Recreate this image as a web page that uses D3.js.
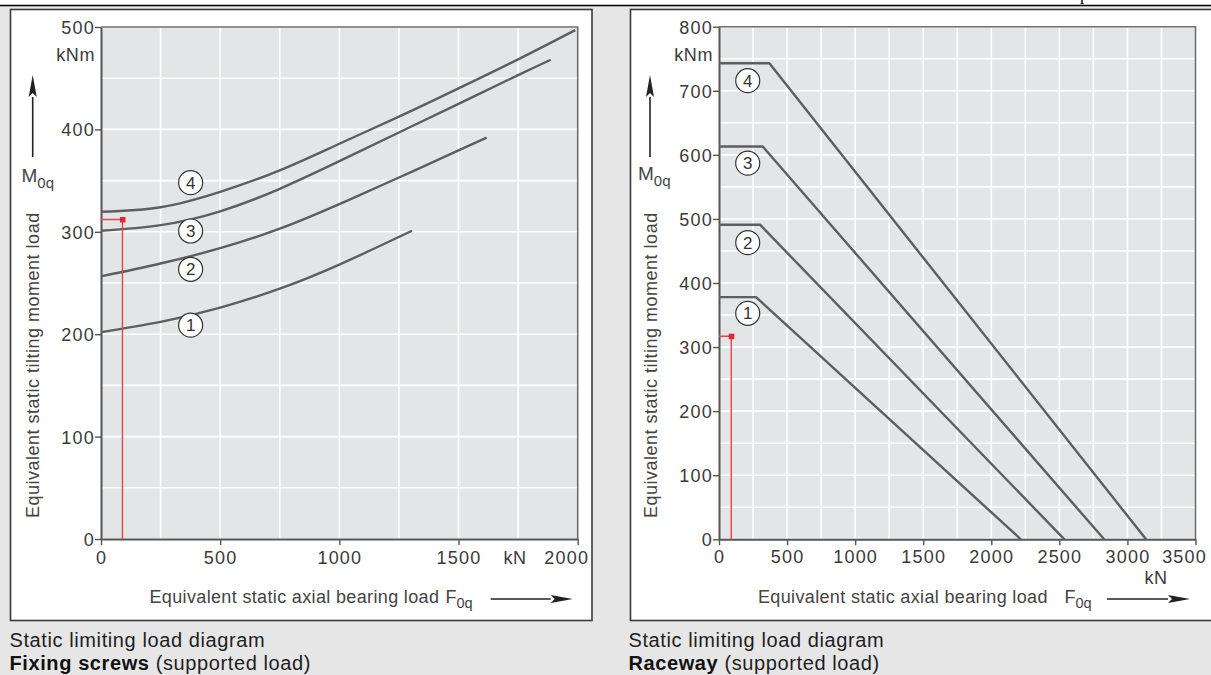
<!DOCTYPE html>
<html><head><meta charset="utf-8">
<script src="https://cdn.jsdelivr.net/npm/d3@7"></script>
<style>
html,body{margin:0;padding:0;background:#e6e6e6;}
svg{display:block;}
text{font-family:"Liberation Sans",Arial,sans-serif;fill:#3a3a3a;}
</style></head><body>
<svg id="c" width="1211" height="675"></svg>
<script>
// ---------- data ----------
// Left: fixing screws (F0q kN -> M0q kNm)
const screwXTicks = [0, 500, 1000, 1500, 2000];
const screwYTicks = [0, 100, 200, 300, 400, 500];
const screwCurve1 = [[0,202],[250,212],[500,226],[750,244.5],[1000,268],[1305,301]];
const screwCurve2 = [[0,256.5],[250,269],[500,284],[750,303],[1000,327],[1250,353],[1500,379.5],[1618,392]];
const screwCurve3 = [[0,301],[250,306.5],[500,320],[750,342],[1000,369],[1250,397],[1500,425],[1750,453],[1887,468]];
const screwCurve4 = [[0,319.6],[250,324],[500,339],[750,360],[1000,386],[1250,412.4],[1500,440],[1750,468.4],[1990,497]];
const screwLabels = ["1","2","3","4"];
const screwLabelPos = [[376,208.8],[376,263.4],[376,300.8],[376,348]];
const screwMarker = [90, 312];

// Right: raceway
const raceXTicks = [0, 500, 1000, 1500, 2000, 2500, 3000, 3500];
const raceYTicks = [0, 100, 200, 300, 400, 500, 600, 700, 800];
const raceCurve1 = [[0,378],[272,378],[2217,0]];
const raceCurve2 = [[0,491],[301,491],[2537,0]];
const raceCurve3 = [[0,613],[321,613],[2829,0]];
const raceCurve4 = [[0,743],[370,743],[3137,0]];
const raceLabels = ["1","2","3","4"];
const raceLabelPos = [[211,352.7],[211,463],[211,587],[211,715.7]];
const raceMarker = [90, 317];

const yTitle = "Equivalent static tilting moment load";
const xTitle = "Equivalent static axial bearing load";
const captionLine1 = "Static limiting load diagram";
const leftCaptionBold = "Fixing screws", rightCaptionBold = "Raceway";
const captionRest = " (supported load)";

// ---------- drawing ----------
const svg = d3.select("#c");
svg.append("rect").attr("x",0).attr("y",0).attr("width",1211).attr("height",6).attr("fill","#fff");
svg.append("line").attr("x1",0).attr("x2",1211).attr("y1",5.5).attr("y2",5.5).attr("stroke","#000").attr("stroke-width",1.5);
svg.append("text").attr("x",1080).attr("y",-0.5).style("font-family","'Liberation Serif',serif").style("font-size","17px").style("fill","#000").text("p");

function arrow(g, x1, y1, x2, y2) {
  const dx = x2-x1, dy = y2-y1, L = Math.hypot(dx,dy), ux = dx/L, uy = dy/L;
  const hl = 22, hw = 4;
  const bx = x2 - ux*hl, by = y2 - uy*hl;
  g.append("line").attr("x1",x1).attr("y1",y1).attr("x2",bx).attr("y2",by)
    .attr("stroke","#222").attr("stroke-width",1.6);
  g.append("path").attr("d",`M${x2},${y2}L${bx - uy*hw},${by + ux*hw}L${bx + ux*4},${by+uy*4}L${bx + uy*hw},${by - ux*hw}Z`)
    .attr("fill","#222");
}

function drawPanel(cfg) {
  const g = svg.append("g");
  g.append("rect").attr("x",cfg.box[0]).attr("y",cfg.box[1]).attr("width",cfg.box[2]).attr("height",cfg.box[3])
    .attr("fill","#fff").attr("stroke","#3a3a3a").attr("stroke-width",1.6);
  const x = d3.scaleLinear().domain(cfg.xDomain).range(cfg.xRange);
  const y = d3.scaleLinear().domain(cfg.yDomain).range(cfg.yRange);
  const [x0,x1] = cfg.xRange, [y0,y1] = cfg.yRange;
  g.append("rect").attr("x",x0).attr("y",y1).attr("width",x1-x0).attr("height",y0-y1).attr("fill","#e4e5e7");
  // grid
  const gx = d3.range(cfg.xDomain[0], cfg.xDomain[1]+1, 250);
  const gy = d3.range(cfg.yDomain[0], cfg.yDomain[1]+1, 50);
  g.append("g").selectAll("line").data(gx).join("line")
    .attr("x1",d=>x(d)).attr("x2",d=>x(d)).attr("y1",y0).attr("y2",y1)
    .attr("stroke","#fff").attr("stroke-width",1.6);
  g.append("g").selectAll("line").data(gy).join("line")
    .attr("y1",d=>y(d)).attr("y2",d=>y(d)).attr("x1",x0).attr("x2",x1)
    .attr("stroke","#fff").attr("stroke-width",1.6);
  // frame top/right
  g.append("path").attr("d",`M${x0},${y1}H${x1}V${y0}`).attr("fill","none").attr("stroke","#6e6e6e").attr("stroke-width",1.6);
  // axes
  const ax = g.append("g").attr("transform",`translate(0,${y0})`)
    .call(d3.axisBottom(x).tickValues(cfg.xTicks).tickSize(6).tickSizeOuter(0).tickFormat(d3.format("d")));
  ax.select(".domain").attr("stroke","#555").attr("stroke-width",2);
  ax.selectAll(".tick line").attr("stroke","#555").attr("stroke-width",1.4);
  ax.selectAll(".tick text").attr("y",563.5-y0).attr("dy",0).attr("fill","#3a3a3a")
    .style("font-size","18px").style("letter-spacing","1.2px").style("font-family","'Liberation Sans',Arial,sans-serif");
  const last = cfg.xTicks[cfg.xTicks.length-1];
  ax.selectAll(".tick text").filter(d=>d===last).attr("text-anchor","end").attr("x",11);
  const ay = g.append("g").attr("transform",`translate(${x0},0)`)
    .call(d3.axisLeft(y).tickValues(cfg.yTicks).tickSize(6).tickSizeOuter(0).tickFormat(d3.format("d")));
  ay.select(".domain").attr("stroke","#555").attr("stroke-width",2);
  ay.selectAll(".tick line").attr("stroke","#555").attr("stroke-width",1.4);
  ay.selectAll(".tick text").attr("x",-6).attr("dy","0.36em").attr("fill","#3a3a3a")
    .style("font-size","18px").style("letter-spacing","1.2px").style("font-family","'Liberation Sans',Arial,sans-serif");
  // units
  g.append("text").attr("x",x0-6).attr("y",60.7).attr("text-anchor","end").style("font-size","18px").style("letter-spacing","0.6px").text("kNm");
  g.append("text").attr("x",cfg.kN[0]).attr("y",cfg.kN[1]).attr("text-anchor","middle").style("font-size","18px").style("letter-spacing","0.6px").text("kN");
  // curves
  const line = d3.line().x(d=>x(d[0])).y(d=>y(d[1])).curve(cfg.curve);
  g.append("g").selectAll("path").data(cfg.curves).join("path")
    .attr("d",line).attr("fill","none").attr("stroke","#5e5e5e").attr("stroke-width",2.4).attr("stroke-linejoin","round");
  // red marker
  const m = cfg.marker;
  g.append("path").attr("d",`M${x0},${y(m[1])}H${x(m[0])}V${y0}`).attr("fill","none").attr("stroke","#e8434b").attr("stroke-width",1.4);
  g.append("rect").attr("x",x(m[0])-2.5).attr("y",y(m[1])-2.5).attr("width",5.5).attr("height",5.5).attr("fill","#e3262f");
  // circled labels
  const lg = g.append("g").selectAll("g").data(cfg.labels).join("g")
    .attr("transform",(d,i)=>`translate(${x(cfg.labelPos[i][0])},${y(cfg.labelPos[i][1])})`);
  lg.append("circle").attr("r",12).attr("fill","#fff").attr("stroke","#333").attr("stroke-width",1.2);
  lg.append("text").attr("text-anchor","middle").attr("dy","0.36em").style("font-size","17px").style("fill","#333").text(d=>d);
  // y title
  g.append("text").attr("transform",`translate(${cfg.yTitleX},518) rotate(-90)`)
    .style("font-size","18px").style("letter-spacing","0.5px").style("fill","#444").text(yTitle);
  // M0q
  const mt = g.append("text").attr("x",cfg.mPos[0]).attr("y",cfg.mPos[1]).style("font-size","19px").style("fill","#444");
  mt.append("tspan").text("M");
  mt.append("tspan").attr("dy",6).style("font-size","15px").text("0q");
  arrow(g, cfg.mArrowX, 157, cfg.mArrowX, 75);
  // x title
  g.append("text").attr("x",cfg.xTitlePos[0]).attr("y",603).style("font-size","18px").style("letter-spacing","0.35px").style("fill","#444").text(xTitle);
  const ft = g.append("text").attr("x",cfg.fPos).attr("y",603).style("font-size","18px").style("fill","#444");
  ft.append("tspan").text("F");
  ft.append("tspan").attr("dy",5).style("font-size","14.5px").text("0q");
  arrow(g, cfg.xArrow[0], 599, cfg.xArrow[1], 599);
  // caption
  svg.append("text").attr("x",cfg.capX).attr("y",646.5).style("font-size","20px").style("letter-spacing","0.6px").style("fill","#1e1e1e").text(captionLine1);
  const c2 = svg.append("text").attr("x",cfg.capX).attr("y",669.5).style("font-size","20px").style("letter-spacing","0.6px").style("fill","#1e1e1e");
  c2.append("tspan").style("font-weight","bold").style("fill","#111").text(cfg.capBold);
  c2.append("tspan").text(captionRest);
}

drawPanel({
  box:[10.5,9.5,581.5,611],
  xDomain:[0,2000], xRange:[101,577.7], yDomain:[0,500], yRange:[539,27],
  xTicks:screwXTicks, yTicks:screwYTicks,
  curves:[screwCurve1,screwCurve2,screwCurve3,screwCurve4], curve:d3.curveNatural,
  labels:screwLabels, labelPos:screwLabelPos, marker:screwMarker,
  kN:[515,563.5], yTitleX:38.5, mPos:[21.5,181.7], mArrowX:32.7,
  xTitlePos:[149.5], fPos:445.5, xArrow:[490.7,572.7],
  capX:9.5, capBold:leftCaptionBold
});
drawPanel({
  box:[630.5,9.5,582,611],
  xDomain:[0,3500], xRange:[719,1195.5], yDomain:[0,800], yRange:[539.3,26.7],
  xTicks:raceXTicks, yTicks:raceYTicks,
  curves:[raceCurve1,raceCurve2,raceCurve3,raceCurve4], curve:d3.curveLinear,
  labels:raceLabels, labelPos:raceLabelPos, marker:raceMarker,
  kN:[1156,584], yTitleX:657, mPos:[638,180], mArrowX:650,
  xTitlePos:[758], fPos:1064.5, xArrow:[1107,1190],
  capX:628.5, capBold:rightCaptionBold
});
</script></body></html>
